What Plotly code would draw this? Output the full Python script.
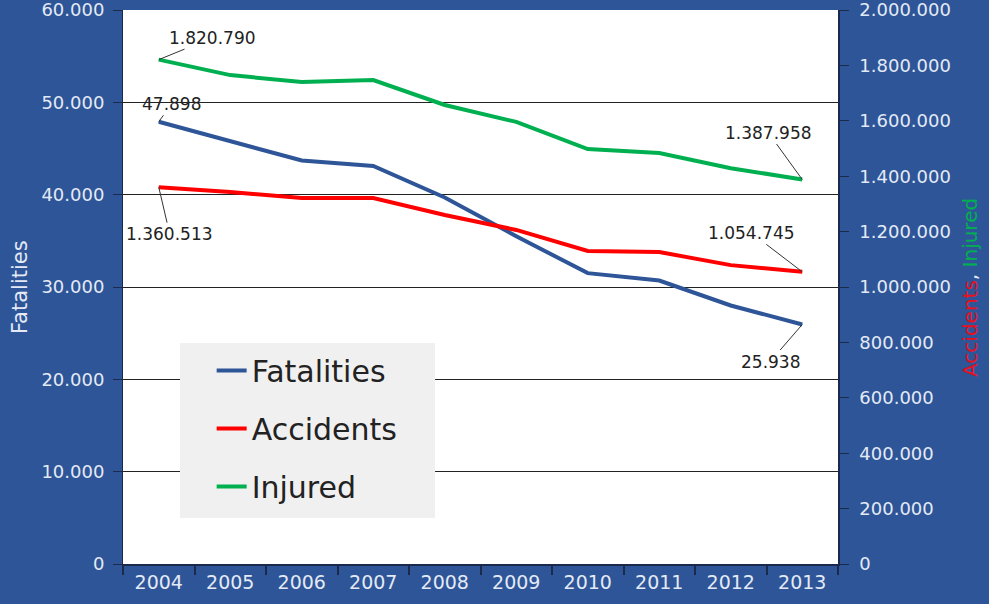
import plotly.graph_objects as go

years = ["2004", "2005", "2006", "2007", "2008", "2009", "2010", "2011", "2012", "2013"]
fatalities = [47898, 45800, 43700, 43100, 39700, 35500, 31500, 30700, 28000, 25938]
accidents = [1360513, 1343000, 1321000, 1321000, 1260000, 1206000, 1130000, 1126000, 1079000, 1054745]
injured = [1820790, 1765000, 1740000, 1747000, 1657000, 1596000, 1498000, 1484000, 1429000, 1387958]

left_ticks = [0, 10000, 20000, 30000, 40000, 50000, 60000]
right_ticks = [0, 200000, 400000, 600000, 800000, 1000000, 1200000, 1400000, 1600000, 1800000, 2000000]

BG = "#2E5597"
BLUE = "#2E5597"
RED = "#FF0000"
GREEN = "#00B050"
TICKTXT = "#E3EAF6"
FONT = "DejaVu Sans"


def fmt(v):
    return f"{v:,}".replace(",", ".")


fig = go.Figure()
fig.add_trace(go.Scatter(x=years, y=fatalities, name="Fatalities", mode="lines",
                         line=dict(color=BLUE, width=4), legendgroup="a", yaxis="y"))
fig.add_trace(go.Scatter(x=years, y=accidents, name="Accidents", mode="lines",
                         line=dict(color=RED, width=4), legendgroup="b", yaxis="y2"))
fig.add_trace(go.Scatter(x=years, y=injured, name="Injured", mode="lines",
                         line=dict(color=GREEN, width=4), legendgroup="c", yaxis="y2"))

first, last = 0, len(years) - 1
ann = []
labels = [
    (first, injured[first], "y2", 54, -22),
    (first, fatalities[first], "y", 13, -18),
    (first, accidents[first], "y2", 11, 47),
    (last, injured[last], "y2", -34, -47),
    (last, accidents[last], "y2", -51, -39),
    (last, fatalities[last], "y", -32, 37),
]
for xi, yv, yr, ax, ay in labels:
    ann.append(dict(x=xi, y=yv, xref="x", yref=yr, text=fmt(yv), showarrow=True,
                    arrowhead=0, arrowwidth=1, arrowcolor="#333333", ax=ax, ay=ay,
                    font=dict(family=FONT, size=17, color="#222222")))

ann.append(dict(x=-0.144, y=0.5, xref="paper", yref="paper", text="Fatalities",
                textangle=-90, showarrow=False, xanchor="center", yanchor="middle",
                font=dict(family=FONT, size=21, color=TICKTXT)))
ann.append(dict(x=1.1846, y=0.5, xref="paper", yref="paper",
                text='<span style="color:#E8101E">Accidents</span>, <span style="color:#00B050">Injured</span>',
                textangle=-90, showarrow=False, xanchor="center", yanchor="middle",
                font=dict(family=FONT, size=20, color=TICKTXT)))

fig.update_layout(
    width=989, height=604,
    margin=dict(l=123, r=151, t=10, b=40),
    paper_bgcolor=BG, plot_bgcolor="white",
    separators=",.",
    font=dict(family=FONT, size=17, color=TICKTXT),
    showlegend=True,
    legend=dict(x=0.124, y=0.396, xanchor="left", yanchor="top",
                bgcolor="rgba(0,0,0,0)", tracegroupgap=16,
                font=dict(family=FONT, size=30, color="#222222"),
                itemwidth=30),
    xaxis=dict(type="category", range=[-0.5, 9.5], tickson="boundaries",
               ticks="outside", ticklen=9, tickcolor="#1B2A4A", tickwidth=1.5,
               showline=True, linecolor="#1B2A4A", linewidth=1.5, showgrid=False,
               automargin=False,
               tickfont=dict(family=FONT, size=19, color=TICKTXT)),
    yaxis=dict(range=[0, 60000], tickvals=left_ticks, tickformat=",d",
               ticks="outside", ticklen=9, tickcolor="#1B2A4A",
               showgrid=True, gridcolor="#222222", gridwidth=1, zeroline=False,
               showline=True, linecolor="#1B2A4A", linewidth=1,
               ticklabeloverflow="allow", automargin=False, ticklabelstandoff=5,
               tickfont=dict(family=FONT, size=18, color=TICKTXT)),
    yaxis2=dict(range=[0, 2000000], tickvals=right_ticks, tickformat=",d",
                overlaying="y", side="right",
                ticks="outside", ticklen=9, tickcolor="#1B2A4A",
                showgrid=False, zeroline=False,
                showline=True, linecolor="#1B2A4A", linewidth=1.5,
                ticklabeloverflow="allow", automargin=False, ticklabelstandoff=7,
                tickfont=dict(family=FONT, size=18, color=TICKTXT)),
    annotations=ann,
    shapes=[dict(type="rect", xref="paper", yref="paper",
                 x0=0.0797, x1=0.4364, y0=0.083, y1=0.399,
                 fillcolor="#F0F0F0", line=dict(width=0), layer="above")],
)

fig.write_html("out.html", config={"displayModeBar": False},
               post_script="document.body.style.margin='0';document.body.style.overflow='hidden';")
